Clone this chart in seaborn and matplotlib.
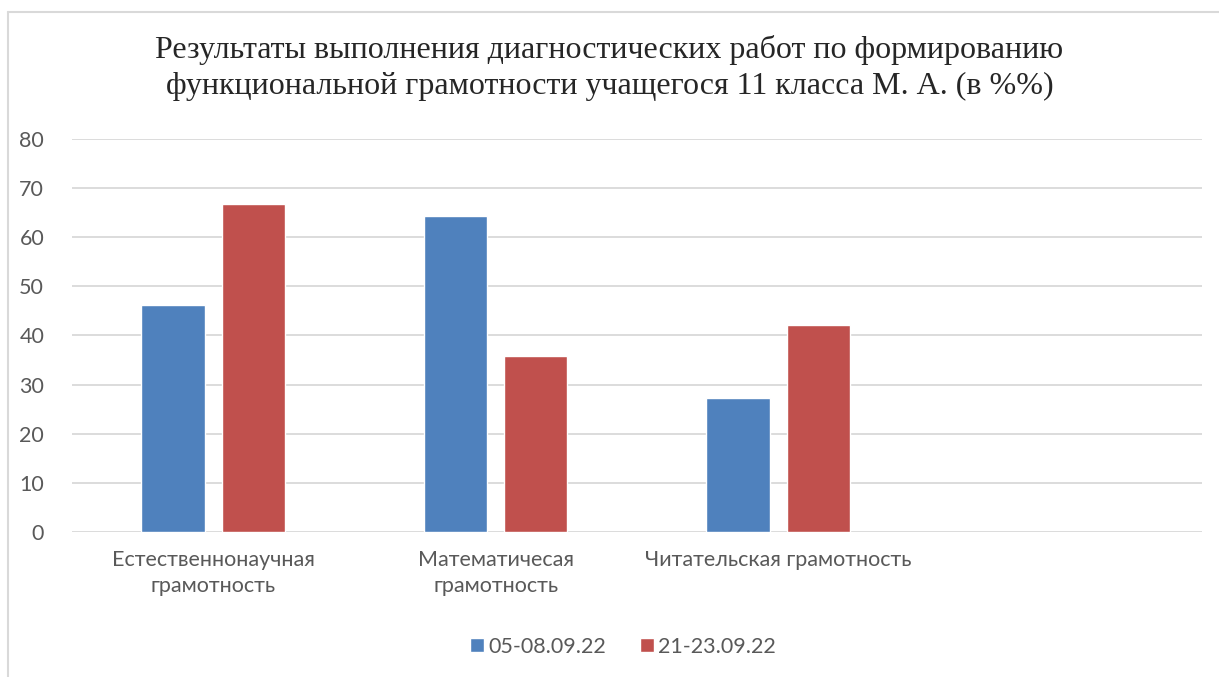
import numpy as np
import pandas as pd
import matplotlib
matplotlib.use("Agg")
import matplotlib.pyplot as plt
from matplotlib.lines import Line2D
import seaborn as sns

# data
categories = ["Естественнонаучная\nграмотность", "Математичесая\nграмотность", "Читательская грамотность"]
series_names = ["05-08.09.22", "21-23.09.22"]
first_run = [46.2, 64.3, 27.3]
second_run = [66.8, 35.8, 42.2]
yticks = [0, 10, 20, 30, 40, 50, 60, 70, 80]
title = ("Результаты выполнения диагностических работ по формированию\n"
         "функциональной грамотности учащегося 11 класса М. А. (в %%)")

df = pd.DataFrame({
    "cat": categories * 2,
    "val": first_run + second_run,
    "series": [series_names[0]] * 3 + [series_names[1]] * 3,
})

sns.set_style("white")
plt.rcParams["font.family"] = ["Lato", "DejaVu Sans"]

fig = plt.figure(figsize=(12.19, 6.77), dpi=100)
ax = fig.add_axes([0.059, 0.2142, 0.927, 0.5805])

sns.barplot(data=df, x="cat", y="val", hue="series", order=categories,
            palette=["#4F81BD", "#C0504D"], width=0.567, gap=0.21,
            saturation=1, ax=ax, legend=True)

ax.set_xlim(-0.5, 3.5)
ax.set_ylim(0, 80)
ax.set_yticks(yticks)
ax.yaxis.grid(True, color="#D9D9D9", linewidth=1.3)
ax.set_axisbelow(True)
for s in ax.spines.values():
    s.set_visible(False)
ax.tick_params(axis="both", length=0, colors="#595959", labelsize=15.5)
ax.tick_params(axis="y", pad=20)
ax.tick_params(axis="x", pad=13)
for lab in ax.get_xticklabels():
    lab.set_linespacing(1.35)
ax.set_xlabel("")
ax.set_ylabel("")

handles, labels = ax.get_legend_handles_labels()
ax.get_legend().remove()
fig.legend(handles, labels, loc="center", bbox_to_anchor=(0.511, 0.045), ncol=2,
           frameon=False, handlelength=0.65, handleheight=0.65, handletextpad=0.2,
           columnspacing=1.6, prop={"size": 15.5}, labelcolor="#595959")

fig.suptitle(title, y=0.948, fontsize=23, family=["Liberation Serif", "DejaVu Serif"],
             linespacing=1.32, va="top")

# chart frame
fig.add_artist(Line2D([0.0066, 0.0066], [0.0, 0.982], color="#D9D9D9", linewidth=1.5))
fig.add_artist(Line2D([0.0066, 1.0], [0.982, 0.982], color="#D9D9D9", linewidth=1.5))

fig.savefig("out.png", dpi=100)
